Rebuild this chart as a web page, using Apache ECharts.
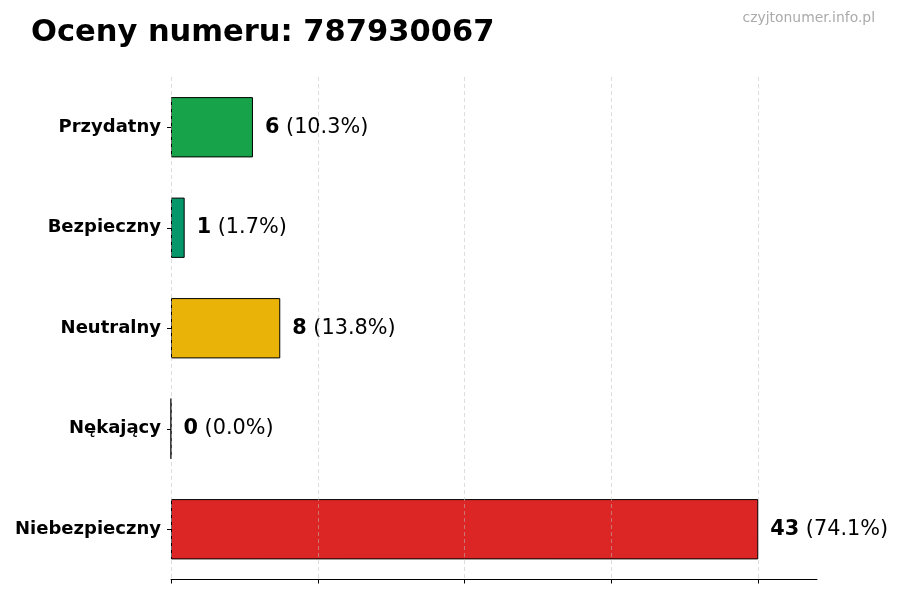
<!DOCTYPE html>
<html>
<head>
<meta charset="utf-8">
<script src="https://cdn.jsdelivr.net/npm/echarts@6/dist/echarts.min.js"></script>
<style>html,body{margin:0;padding:0;background:#fff}#c{width:900px;height:600px}</style>
</head>
<body>
<div id="c"></div>
<script>
const categories = ["Przydatny", "Bezpieczny", "Neutralny", "Nękający", "Niebezpieczny"];
const values = [6, 1, 8, 0, 43];
const colors = ["#16a34a", "#059669", "#eab308", "#f97316", "#dc2626"];
const xTicks = [0, 10.75, 21.5, 32.25, 43];
const xMax = 47.3;
const titleText = "Oceny numeru: 787930067";
const watermark = "czyjtonumer.info.pl";

const total = values.reduce((a, b) => a + b, 0);
const FONT = "DejaVu Sans";

const chart = echarts.init(document.getElementById('c'));
chart.setOption({
  animation: false,
  backgroundColor: '#fff',
  title: [
    { text: titleText, left: 26, top: 13, textStyle: { fontFamily: FONT, fontSize: 30.5, fontWeight: 'bold', color: '#000' } },
    { text: watermark, right: 20, top: 6, textStyle: { fontFamily: FONT, fontSize: 13.9, fontWeight: 'normal', color: '#aaaaaa' } }
  ],
  grid: { left: 171, right: 83, top: 77, bottom: 20.5, containLabel: false },
  xAxis: {
    type: 'value', min: 0, max: xMax,
    axisLine: { show: true, lineStyle: { color: '#000', width: 1 } },
    axisTick: { show: true, length: 4, inside: false, customValues: xTicks, lineStyle: { color: '#000' } },
    axisLabel: { show: false },
    splitLine: { show: false }
  },
  yAxis: {
    type: 'category', data: categories, inverse: true,
    axisLine: { show: false },
    axisTick: { show: true, alignWithLabel: true, length: 4, lineStyle: { color: '#000' } },
    axisLabel: { fontFamily: FONT, fontSize: 18, fontWeight: 'bold', color: '#000', margin: 10 }
  },
  series: [{
    type: 'bar',
    barWidth: '60%',
    data: values.map((v, i) => ({ value: v, itemStyle: { color: colors[i] } })),
    itemStyle: { borderColor: '#000', borderWidth: 1 },
    label: {
      show: true, position: 'right', distance: 12,
      formatter: p => '{b|' + p.value + '}{n| (' + (p.value / total * 100).toFixed(1) + '%)}',
      rich: {
        b: { fontFamily: FONT, fontSize: 20.8, fontWeight: 'bold', color: '#000' },
        n: { fontFamily: FONT, fontSize: 20.8, fontWeight: 'normal', color: '#000' }
      }
    },
    markLine: {
      silent: true, symbol: 'none', label: { show: false },
      lineStyle: { type: [4, 3], color: 'rgba(190,190,190,0.65)', width: 0.8 },
      data: xTicks.map(t => ({ xAxis: t }))
    }
  }]
});
</script>
</body>
</html>
